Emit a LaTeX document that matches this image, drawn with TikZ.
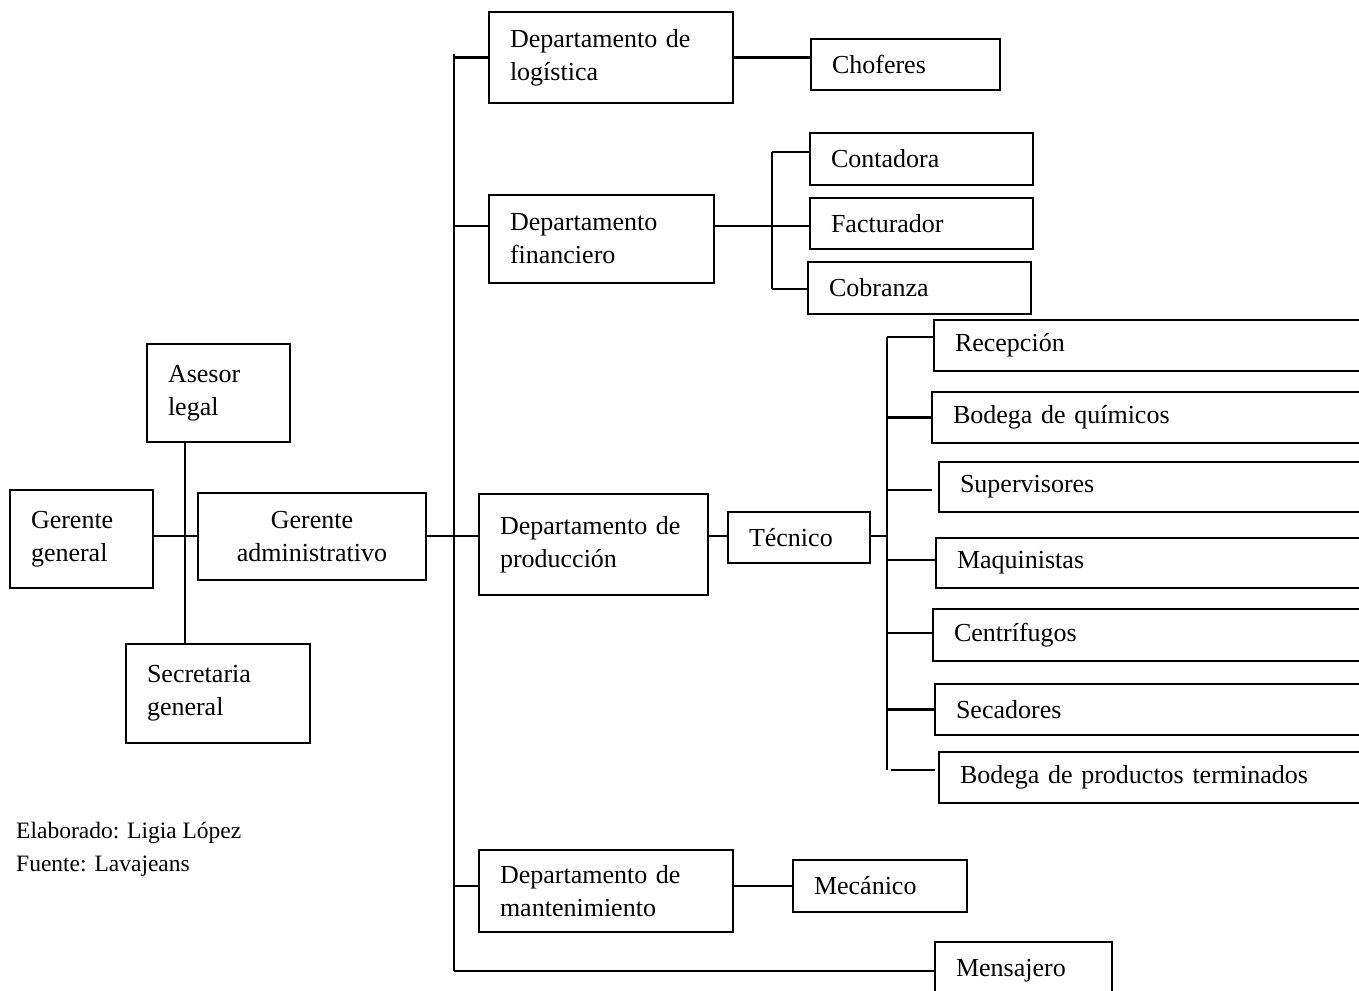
\documentclass[tikz,border=0pt]{standalone}
\usepackage{fontspec}
\setmainfont{Liberation Serif}
\newcommand\orgfont{\fontsize{26}{33}\selectfont}
\newcommand\notefont{\fontsize{23.5}{33}\selectfont}
\tikzset{
  box/.style={draw, line width=2.1pt, inner xsep=21pt, inner ysep=0pt,
    outer sep=0pt, align=left, font=\orgfont, anchor=north west},
  link/.style={line width=2.1pt},
}
\begin{document}
\begin{tikzpicture}[x=1pt,y=-1pt]
\useasboundingbox (0,0) rectangle (1359,990);
\clip (0,0) rectangle (1359,990);

% top management
\node[box, text width=101pt, minimum height=98pt] (gg) at (10,490) {Gerente\\general};
\node[box, text width=101pt, minimum height=98pt] (al) at (147,344) {Asesor\\legal};
\node[box, text width=142pt, minimum height=99pt] (sg) at (126,644) {Secretaria\\general};
\node[box, align=center, text width=186pt, minimum height=87pt] (ga) at (198,493) {Gerente\\administrativo};

% departments
\node[box, text width=202pt, minimum height=91pt] (dl) at (489,12) {Departamento de\\logística};
\node[box, text width=183pt, minimum height=88pt] (df) at (489,195) {Departamento\\financiero};
\node[box, text width=187pt, minimum height=101pt] (dp) at (479,494) {Departamento de\\producción};
\node[box, text width=212pt, minimum height=82pt] (dm) at (479,850) {Departamento de\\mantenimiento};

% staff
\node[box, text width=147pt, minimum height=51pt] (ch) at (811,39) {Choferes};
\node[box, text width=181pt, minimum height=52pt] (co) at (810,133) {Contadora};
\node[box, text width=181pt, minimum height=51pt] (fa) at (810,198) {Facturador};
\node[box, text width=181pt, minimum height=52pt] (cb) at (808,262) {Cobranza};
\node[box, text width=100pt, minimum height=51pt] (te) at (728,512) {Técnico};
\node[box, text width=444pt, minimum height=51pt] (re) at (934,320) {Recepción};
\node[box, text width=446pt, minimum height=51pt] (bq) at (932,392) {Bodega de químicos};
\node[box, text width=439pt, minimum height=50pt] (su) at (939,462) {Supervisores};
\node[box, text width=442pt, minimum height=50pt] (ma) at (936,538) {Maquinistas};
\node[box, text width=445pt, minimum height=52pt] (ce) at (933,609) {Centrífugos};
\node[box, text width=443pt, minimum height=51pt] (se) at (935,684) {Secadores};
\node[box, text width=439pt, minimum height=51pt] (bp) at (939,752) {Bodega de productos terminados};
\node[box, text width=132pt, minimum height=52pt] (me) at (793,860) {Mecánico};
\node[box, text width=135pt, minimum height=58pt] (ms) at (935,942) {Mensajero};

% source note
\node[anchor=west, align=left, inner sep=0pt, font=\notefont] (nota) at (16,849.5)
  {Elaborado: Ligia López\\Fuente: Lavajeans};

% junction points
\coordinate (lb) at (185,536);
\coordinate (mb) at (454,536);
\coordinate (mt) at (454,54);
\coordinate (mbot) at (454,971);
\coordinate (jf) at (772,226);
\coordinate (fbt) at (772,152);
\coordinate (fbb) at (772,289);
\coordinate (pb) at (887,536);
\coordinate (pt) at (887,337);
\coordinate (pbot) at (887,770);

% general management
\draw[link] (al.south -| lb) -- (sg.north -| lb);
\draw[link] (gg.east |- lb) -- (ga.west |- lb);
\draw[link] (ga.east |- mb) -- (mb);

% main bus and departments
\draw[link] (mt) -- (mbot);
\draw[link] (mt |- dl.west) -- (dl.west);
\draw[link] (dl.east) -- (dl.east -| ch.west);
\draw[link] (mt |- jf) -- (df.west |- jf);
\draw[link] (mb) -- (dp.west |- mb);
\draw[link] (mt |- me.west) -- (dm.west |- me.west);
\draw[link] (dm.east |- me.west) -- (me.west);
\draw[link] (mbot) -- (mbot -| ms.west);

% finance
\draw[link] (df.east |- jf) -- (jf);
\draw[link] (fbt) -- (fbb);
\draw[link] (fbt) -- (fbt -| co.west);
\draw[link] (jf) -- (jf -| fa.west);
\draw[link] (fbb) -- (fbb -| cb.west);

% production
\draw[link] (dp.east |- mb) -- (te.west |- mb);
\draw[link] (te.east |- pb) -- (pb);
\draw[link] (pt) -- (pbot);
\draw[link] (pt) -- (pt -| re.west);
\draw[link] (pb |- bq.west) -- (bq.west);
\draw[link] (pb |- 0,490) -- ([xshift=-7pt]su.west |- 0,490);
\draw[link] (pb |- 0,560) -- (ma.west |- 0,560);
\draw[link] (pb |- 0,633) -- (ce.west |- 0,633);
\draw[link] (pb |- se.west) -- (se.west);
\draw[link] ([xshift=4pt]pbot) -- ([xshift=-4pt]pbot -| bp.west);
\end{tikzpicture}
\end{document}
